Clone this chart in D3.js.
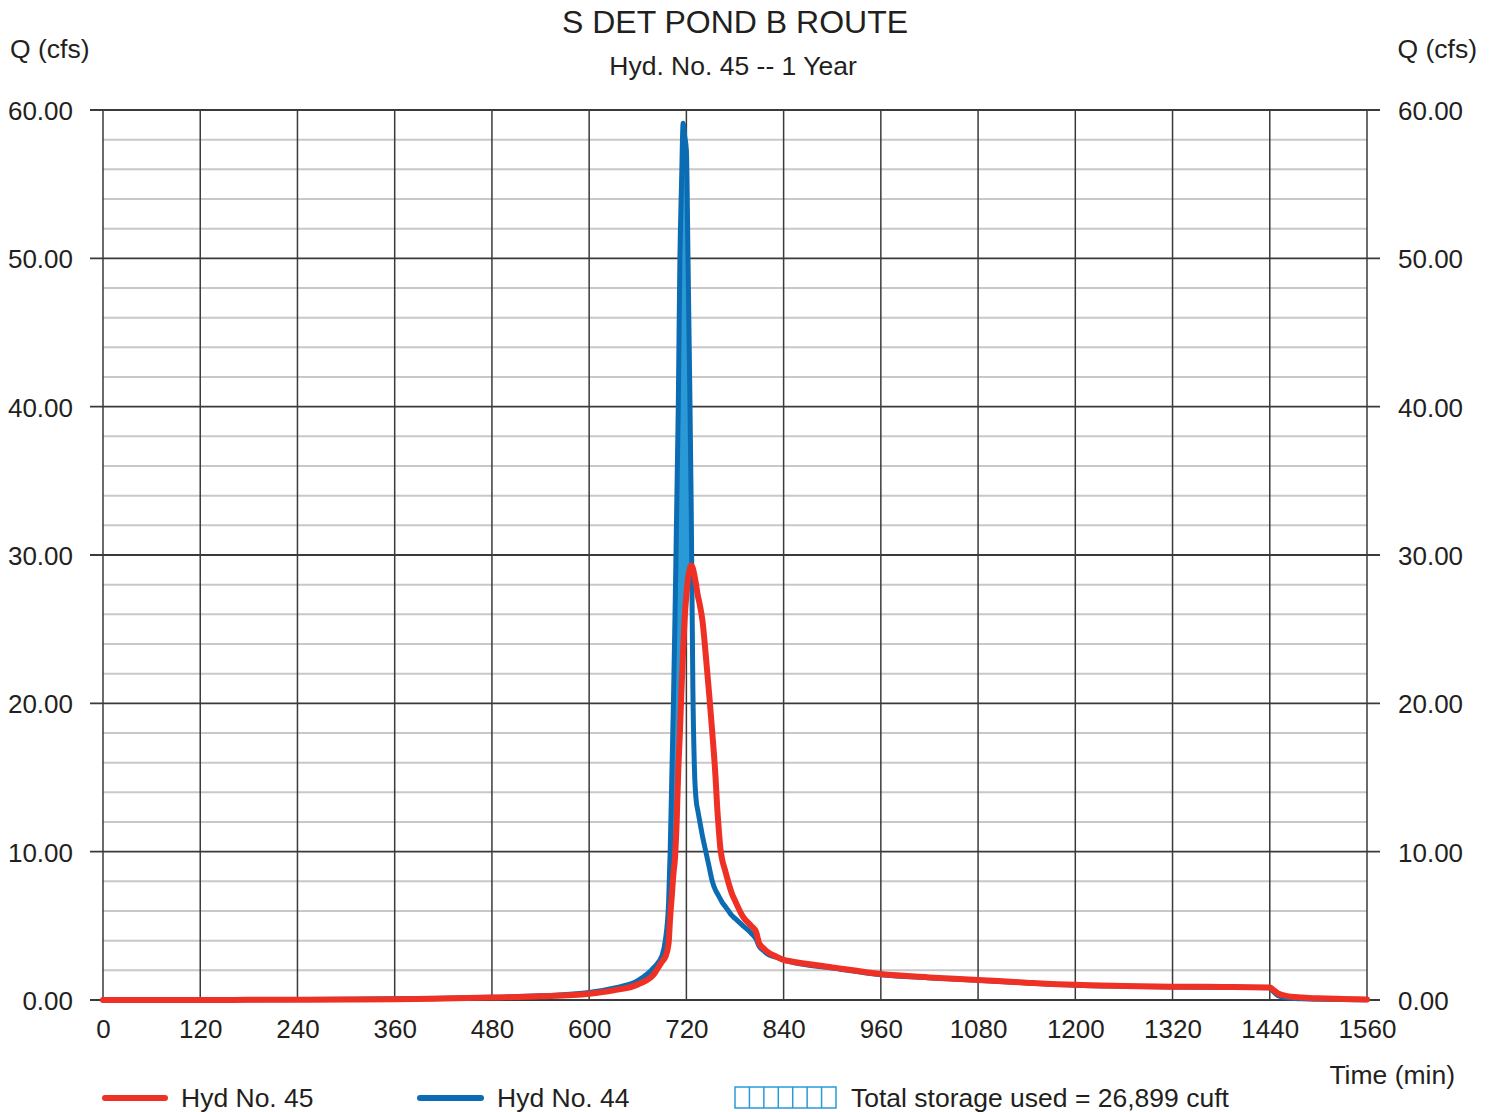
<!DOCTYPE html>
<html>
<head>
<meta charset="utf-8">
<script src="https://cdn.jsdelivr.net/npm/d3@7"></script>
<style>
  html, body { margin: 0; padding: 0; background: #fff; }
  svg { display: block; }
  text { font-family: "Liberation Sans", Arial, sans-serif; fill: #231f20; }
</style>
</head>
<body>
<svg id="chart" width="1494" height="1112"></svg>
<script>
// ---- Data ----
const timeMin = [0, 60, 120, 180, 240, 300, 360, 420, 480, 540, 600, 630, 660, 680, 690, 694, 698, 700, 702, 704, 706, 708, 710, 712, 714, 716, 718, 720, 722, 724, 726, 728, 730, 732, 734, 736, 740, 744, 748, 752, 756, 758, 760, 762, 764, 768, 772, 776, 780, 790, 800, 806, 810, 816, 820, 830, 840, 850, 900, 960, 1020, 1080, 1140, 1200, 1260, 1320, 1380, 1440, 1444, 1450, 1460, 1480, 1500, 1530, 1560];

const hyd44Inflow = [0, 0, 0.01, 0.02, 0.03, 0.05, 0.08, 0.12, 0.18, 0.28, 0.5, 0.8, 1.3, 2.2, 3.0, 4.0, 6.5, 10, 15, 20, 26, 33, 40, 50, 55, 59.1, 58.2, 57.3, 50, 42, 33, 21, 15.5, 13.5, 12.8, 12.2, 11.0, 10.0, 9.0, 8.0, 7.4, 7.2, 7.0, 6.8, 6.6, 6.3, 6.0, 5.7, 5.5, 5.0, 4.5, 4.1, 3.6, 3.3, 3.1, 2.9, 2.7, 2.55, 2.15, 1.7, 1.5, 1.33, 1.15, 1.0, 0.93, 0.88, 0.86, 0.82, 0.6, 0.3, 0.15, 0.08, 0.05, 0.03, 0.02];

const hyd45Outflow = [0, 0, 0, 0.01, 0.02, 0.03, 0.05, 0.1, 0.17, 0.25, 0.42, 0.65, 1.05, 1.75, 2.6, 2.9, 3.8, 5.6, 7.0, 8.5, 9.6, 12.0, 15.5, 18.0, 21.0, 23.6, 25.8, 27.3, 28.4, 29.0, 29.3, 29.1, 28.6, 28.0, 27.3, 26.8, 25.5, 23.2, 20.7, 18.0, 15.0, 13.0, 11.5, 10.2, 9.5, 8.7, 7.9, 7.2, 6.7, 5.6, 5.0, 4.6, 3.8, 3.45, 3.25, 2.95, 2.7, 2.6, 2.2, 1.75, 1.52, 1.35, 1.17, 1.02, 0.95, 0.9, 0.88, 0.85, 0.7, 0.45, 0.28, 0.17, 0.11, 0.07, 0.04];

const xTicks = [0, 120, 240, 360, 480, 600, 720, 840, 960, 1080, 1200, 1320, 1440, 1560];
const yTicks = [0, 10, 20, 30, 40, 50, 60];
const yMinorTicks = d3.range(0, 61, 2);

const titleText = "S DET POND B ROUTE";
const subtitleText = "Hyd. No. 45 -- 1 Year";
const yLabel = "Q (cfs)";
const xLabel = "Time (min)";
const legendItems = ["Hyd No. 45", "Hyd No. 44", "Total storage used = 26,899 cuft"];

// ---- Layout ----
const svg = d3.select("#chart");
const L = 103, R = 1367, T = 110, B = 1000;
const x = d3.scaleLinear().domain([0, 1560]).range([L, R]);
const y = d3.scaleLinear().domain([0, 60]).range([B, T]);

const RED = "#ee3124", BLUE = "#0b6cb3", FILL = "#2a9ad6";
const FS = 26.5;

// minor horizontal grid
svg.append("g").selectAll("line").data(yMinorTicks.filter(v => v % 10 !== 0)).join("line")
  .attr("x1", L).attr("x2", R).attr("y1", d => y(d)).attr("y2", d => y(d))
  .attr("stroke", "#c8c8c8").attr("stroke-width", 2);

// vertical grid
svg.append("g").selectAll("line").data(xTicks).join("line")
  .attr("x1", d => x(d)).attr("x2", d => x(d)).attr("y1", T).attr("y2", B)
  .attr("stroke", "#3a3a3a").attr("stroke-width", 1.5);

// major horizontal grid, extending as ticks on both sides
svg.append("g").selectAll("line").data(yTicks).join("line")
  .attr("x1", L - 13).attr("x2", R + 13).attr("y1", d => y(d)).attr("y2", d => y(d))
  .attr("stroke", "#3a3a3a").attr("stroke-width", 1.8);

// axes labels via d3 axes (tick text only)
const yAxisL = d3.axisLeft(y).tickValues(yTicks).tickFormat(d3.format(".2f")).tickSize(0).tickPadding(30);
const gL = svg.append("g").attr("transform", `translate(${L},0)`).call(yAxisL);
const yAxisR = d3.axisRight(y).tickValues(yTicks).tickFormat(d3.format(".2f")).tickSize(0).tickPadding(31);
const gR = svg.append("g").attr("transform", `translate(${R},0)`).call(yAxisR);
const xAxis = d3.axisBottom(x).tickValues(xTicks).tickFormat(d3.format("d")).tickSize(0).tickPadding(20);
const gX = svg.append("g").attr("transform", `translate(0,${B})`).call(xAxis);
[gL, gR, gX].forEach(g => {
  g.select(".domain").remove();
  g.selectAll("text").attr("font-size", 26).attr("fill", "#231f20")
    .style("font-family", '"Liberation Sans", Arial, sans-serif');
});
gL.selectAll("text").attr("dy", "0.36em");
gR.selectAll("text").attr("dy", "0.36em");

// data
const pts = timeMin.map((t, i) => ({ t, inQ: hyd44Inflow[i], outQ: hyd45Outflow[i] }));
const curve = d3.curveMonotoneX;

// storage area (inflow above outflow)
svg.append("path").datum(pts)
  .attr("d", d3.area().curve(curve)
    .x(d => x(d.t))
    .y0(d => y(Math.min(d.inQ, d.outQ)))
    .y1(d => y(d.inQ)))
  .attr("fill", FILL);

svg.append("path").datum(pts)
  .attr("d", d3.line().curve(curve).x(d => x(d.t)).y(d => y(d.inQ)))
  .attr("fill", "none").attr("stroke", BLUE).attr("stroke-width", 5)
  .attr("stroke-linejoin", "miter").attr("stroke-miterlimit", 20).attr("stroke-linecap", "round");

svg.append("path").datum(pts)
  .attr("d", d3.line().curve(curve).x(d => x(d.t)).y(d => y(d.outQ)))
  .attr("fill", "none").attr("stroke", RED).attr("stroke-width", 6)
  .attr("stroke-linejoin", "round").attr("stroke-linecap", "round");

// titles
svg.append("text").attr("x", 735).attr("y", 33).attr("text-anchor", "middle")
  .attr("font-size", 32).text(titleText);
svg.append("text").attr("x", 733).attr("y", 75).attr("text-anchor", "middle")
  .attr("font-size", FS).text(subtitleText);
svg.append("text").attr("x", 10).attr("y", 58).attr("font-size", FS).text(yLabel);
svg.append("text").attr("x", 1477).attr("y", 58).attr("text-anchor", "end").attr("font-size", FS).text(yLabel);
svg.append("text").attr("x", 1455).attr("y", 1084).attr("text-anchor", "end").attr("font-size", FS).text(xLabel);

// legend
const ly = 1098;
svg.append("line").attr("x1", 105).attr("x2", 165).attr("y1", ly).attr("y2", ly)
  .attr("stroke", RED).attr("stroke-width", 6).attr("stroke-linecap", "round");
svg.append("text").attr("x", 181).attr("y", ly + 9).attr("font-size", FS).text(legendItems[0]);
svg.append("line").attr("x1", 420).attr("x2", 481).attr("y1", ly).attr("y2", ly)
  .attr("stroke", BLUE).attr("stroke-width", 6).attr("stroke-linecap", "round");
svg.append("text").attr("x", 497).attr("y", ly + 9).attr("font-size", FS).text(legendItems[1]);
const bx = 735, bw = 101, by = 1087, bh = 21;
svg.append("rect").attr("x", bx).attr("y", by).attr("width", bw).attr("height", bh)
  .attr("fill", "none").attr("stroke", FILL).attr("stroke-width", 1.5);
svg.append("g").selectAll("line").data(d3.range(1, 7)).join("line")
  .attr("x1", d => bx + d * bw / 7).attr("x2", d => bx + d * bw / 7)
  .attr("y1", by).attr("y2", by + bh).attr("stroke", FILL).attr("stroke-width", 1.5);
svg.append("text").attr("x", 851).attr("y", ly + 9).attr("font-size", FS).text(legendItems[2]);
</script>
</body>
</html>
